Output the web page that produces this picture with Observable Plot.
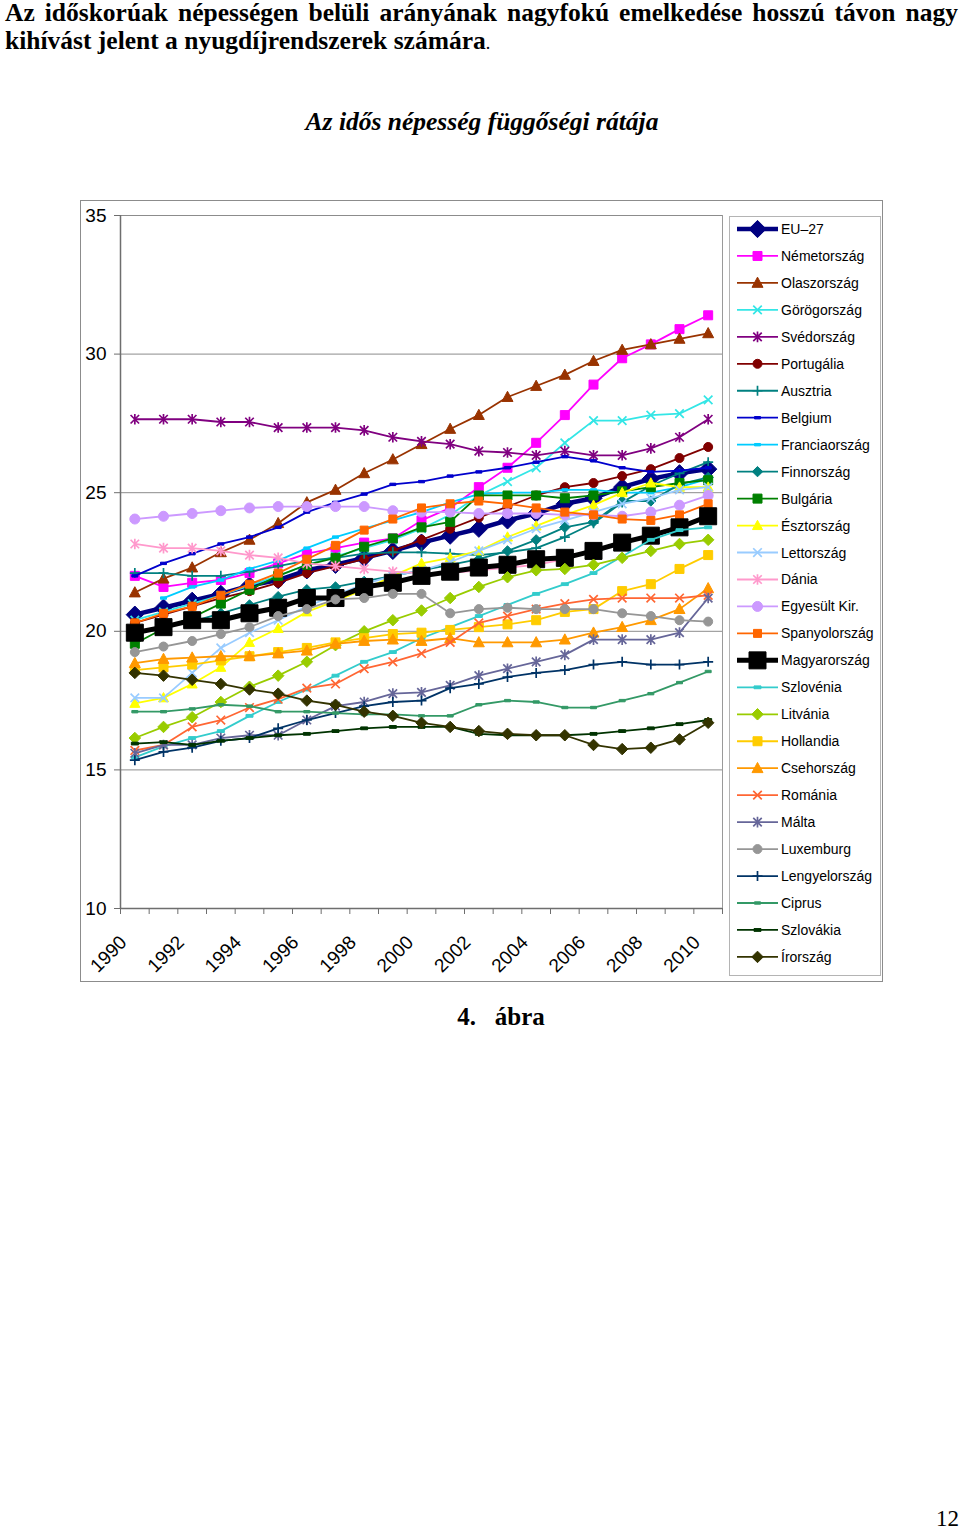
<!DOCTYPE html>
<html><head><meta charset="utf-8">
<script src="https://cdn.jsdelivr.net/npm/d3@7"></script>
<script src="https://cdn.jsdelivr.net/npm/@observablehq/plot@0.6"></script>
<style>
html,body{margin:0;padding:0;background:#fff;}
body{width:960px;height:1531px;position:relative;overflow:hidden;font-family:"Liberation Serif",serif;color:#000;}
.abs{position:absolute;}
#h1{left:5px;top:-1px;width:953px;font-weight:bold;font-size:25.5px;line-height:28px;text-align:justify;text-align-last:justify;white-space:nowrap;}
#h2{left:5px;top:27px;font-weight:bold;font-size:25.5px;line-height:28px;white-space:nowrap;}
#title{left:0;top:107px;width:964px;text-align:center;font-style:italic;font-weight:bold;font-size:25.5px;}
#box{left:80px;top:200px;width:801px;height:780px;border:1px solid #8c8c8c;z-index:2;}
#legbox{left:729px;top:216px;width:150px;height:758px;border:1px solid #b4b4b4;z-index:2;}
#chart{left:0;top:0;z-index:1;}
#legend{left:729px;top:216px;z-index:3;}
#fig{left:0;top:1003px;width:1002px;text-align:center;font-weight:bold;font-size:25px;white-space:pre;}
#page{left:936px;top:1506px;font-size:23px;}
</style></head>
<body>
<div id="h1" class="abs">Az időskorúak népességen belüli arányának nagyfokú emelkedése hosszú távon nagy</div>
<div id="h2" class="abs">kihívást jelent a nyugdíjrendszerek számára<span style="font-weight:normal;font-size:18px">.</span></div>
<div id="title" class="abs">Az idős népesség függőségi rátája</div>
<div id="chart" class="abs"></div>
<div id="box" class="abs"></div>
<div id="legbox" class="abs"></div>
<svg id="legend" class="abs" width="152" height="760"></svg>
<div id="fig" class="abs">4.   ábra</div>
<div id="page" class="abs">12</div>
<script>
// ---- data ----
const years = [1990,1991,1992,1993,1994,1995,1996,1997,1998,1999,2000,2001,2002,2003,2004,2005,2006,2007,2008,2009,2010];
const xLabels = [1990,1992,1994,1996,1998,2000,2002,2004,2006,2008,2010];
const yTicks = [10,15,20,25,30,35];
const countries = ["EU–27","Németország","Olaszország","Görögország","Svédország","Portugália","Ausztria","Belgium","Franciaország","Finnország","Bulgária","Észtország","Lettország","Dánia","Egyesült Kir.","Spanyolország","Magyarország","Szlovénia","Litvánia","Hollandia","Csehország","Románia","Málta","Luxemburg","Lengyelország","Ciprus","Szlovákia","Írország"];

const eu27   = [20.6,20.85,21.1,21.35,21.65,21.85,22.2,22.4,22.65,22.9,23.2,23.45,23.7,24.0,24.25,24.6,24.8,25.2,25.5,25.7,25.85];
const nemet  = [22.0,21.6,21.75,21.85,22.1,22.45,22.8,23.0,23.2,23.35,24.0,24.45,25.2,25.9,26.8,27.8,28.9,29.85,30.35,30.9,31.4];
const olasz  = [21.4,21.9,22.3,22.85,23.3,23.9,24.65,25.1,25.7,26.2,26.75,27.3,27.8,28.45,28.85,29.25,29.75,30.15,30.35,30.55,30.75];
const gorog  = [20.4,20.7,21.0,21.3,21.65,22.0,22.4,22.7,23.0,23.3,23.7,24.2,24.9,25.4,25.9,26.8,27.6,27.6,27.8,27.85,28.35];
const sved   = [27.65,27.65,27.65,27.55,27.55,27.35,27.35,27.35,27.25,27.0,26.85,26.75,26.5,26.45,26.35,26.5,26.35,26.35,26.6,27.0,27.65];
const port   = [20.3,20.6,20.9,21.2,21.45,21.75,22.1,22.35,22.6,22.9,23.3,23.7,24.1,24.5,24.9,25.2,25.35,25.6,25.85,26.25,26.65];
const auszt  = [22.1,22.1,22.0,22.0,22.15,22.35,22.55,22.65,22.8,22.85,22.85,22.8,22.75,22.85,23.0,23.4,23.9,24.65,25.25,25.7,26.1];
const belg   = [22.0,22.45,22.8,23.15,23.4,23.75,24.3,24.65,24.95,25.3,25.4,25.6,25.75,25.9,26.1,26.3,26.15,25.9,25.75,25.8,25.9];
const franc  = [null,21.2,21.6,21.85,22.25,22.55,23.0,23.4,23.7,24.0,24.3,24.65,24.95,25.0,25.0,25.1,25.1,25.0,25.0,25.2,25.5];
const finn   = [19.9,20.15,20.35,20.65,20.95,21.25,21.5,21.6,21.8,22.0,22.2,22.4,22.6,22.9,23.3,23.75,23.95,24.7,24.7,25.3,25.55];
const bulg   = [19.55,20.1,20.5,21.0,21.5,22.0,22.4,22.65,23.05,23.35,23.75,23.95,24.9,24.9,24.9,24.8,24.9,25.05,25.2,25.35,25.45];
const eszt   = [17.4,17.6,18.1,18.7,19.6,20.1,20.7,21.1,21.5,22.0,22.45,22.65,22.9,23.4,23.8,24.2,24.55,25.0,25.35,25.2,25.2];
const lett   = [17.6,17.6,18.5,19.4,19.95,20.4,20.9,21.3,21.7,22.0,22.2,22.5,22.9,23.3,23.7,24.0,24.3,24.6,24.8,25.1,25.2];
const dania  = [23.15,23.0,23.0,22.9,22.75,22.65,22.45,22.35,22.25,22.15,22.1,22.1,22.2,22.3,22.4,22.6,22.9,23.2,23.5,23.8,24.1];
const egyk   = [24.05,24.15,24.25,24.35,24.45,24.5,24.5,24.5,24.5,24.35,24.3,24.3,24.25,24.25,24.25,24.2,24.2,24.15,24.3,24.55,24.9];
const span   = [20.3,20.65,20.9,21.3,21.7,22.1,22.6,23.1,23.65,24.05,24.45,24.6,24.7,24.6,24.45,24.3,24.2,24.05,24.0,24.2,24.6];
const magyar = [19.95,20.15,20.4,20.4,20.65,20.85,21.2,21.2,21.6,21.75,22.0,22.15,22.3,22.4,22.6,22.65,22.9,23.2,23.45,23.75,24.15];
const szloven= [15.45,15.85,16.15,16.4,16.95,17.45,17.9,18.4,18.9,19.25,19.75,20.15,20.55,20.95,21.35,21.7,22.1,22.7,23.3,23.65,23.75];
const litv   = [16.15,16.55,16.9,17.45,18.0,18.4,18.9,19.5,20.0,20.4,20.75,21.2,21.6,21.95,22.2,22.25,22.4,22.65,22.9,23.15,23.3];
const holl   = [18.6,18.7,18.8,18.95,19.1,19.25,19.4,19.6,19.75,19.9,19.95,20.05,20.15,20.25,20.4,20.7,20.8,21.45,21.7,22.25,22.75];
const cseh   = [18.85,19.0,19.05,19.1,19.1,19.2,19.3,19.55,19.65,19.7,19.65,19.75,19.6,19.6,19.6,19.7,19.95,20.15,20.4,20.8,21.55];
const roman  = [15.7,15.9,16.55,16.8,17.25,17.55,17.95,18.1,18.65,18.9,19.2,19.6,20.3,20.55,20.8,21.0,21.15,21.2,21.2,21.2,21.3];
const malta  = [15.6,15.9,15.9,16.15,16.25,16.25,16.8,17.3,17.45,17.75,17.8,18.05,18.4,18.65,18.9,19.15,19.7,19.7,19.7,19.95,21.2];
const lux    = [19.25,19.45,19.65,19.9,20.15,20.55,20.8,21.15,21.2,21.35,21.35,20.65,20.8,20.85,20.8,20.8,20.8,20.65,20.55,20.4,20.35];
const lengy  = [15.35,15.65,15.8,16.05,16.15,16.5,16.8,17.05,17.3,17.45,17.5,17.95,18.1,18.35,18.5,18.6,18.8,18.9,18.8,18.8,18.9];
const ciprus = [17.1,17.1,17.2,17.35,17.3,17.1,17.1,17.05,17.0,17.0,16.95,16.95,17.35,17.5,17.45,17.25,17.25,17.5,17.75,18.15,18.55];
const szlovak= [15.95,16.0,15.9,16.05,16.15,16.25,16.3,16.4,16.5,16.55,16.55,16.55,16.3,16.25,16.25,16.25,16.3,16.4,16.5,16.65,16.8];
const irorsz = [18.5,18.4,18.25,18.1,17.9,17.75,17.5,17.35,17.1,16.95,16.7,16.55,16.4,16.3,16.25,16.25,15.9,15.75,15.8,16.1,16.7];

const seriesValues = [eu27,nemet,olasz,gorog,sved,port,auszt,belg,franc,finn,bulg,eszt,lett,dania,egyk,span,magyar,szloven,litv,holl,cseh,roman,malta,lux,lengy,ciprus,szlovak,irorsz];

// ---- styles ----
const colors = ["#000080","#FF00FF","#993300","#33E6E6","#800080","#800000","#008080","#0000CC","#00CCFF","#008080","#008000","#FFFF00","#99CCFF","#FF99CC","#CC99FF","#FF6600","#000000","#33CCCC","#99CC00","#FFCC00","#FF9900","#FF6633","#666699","#969696","#003366","#339966","#003300","#333300"];
const symbolNames = ["diamond","square","triangle","times","asterisk","circle","plus","dash","dash","diamond","square","triangle","times","asterisk","circle","square","square","dash","diamond","square","triangle","times","asterisk","circle","plus","dash","dash","diamond"];
const markerR = [7.5,4.5,5.5,4.5,5,4.5,5,3,3,4.5,4.5,5,4.5,5,5,4,8.5,3.5,5,4.5,5.5,4.5,5,4.5,5,3,3.5,5];
const lineW = [4.5,1.8,1.8,1.8,1.8,1.8,1.8,1.8,1.8,1.8,1.8,1.8,1.8,1.8,1.8,1.8,5,1.8,1.8,1.8,1.8,1.8,1.8,1.8,1.8,1.8,1.8,1.8];

const R = s => Math.sqrt(s / Math.PI);
const symbols = {
  square:  {draw(c,s){const r=R(s); c.rect(-r,-r,2*r,2*r);}},
  diamond: {draw(c,s){const r=R(s)*1.15; c.moveTo(0,-r); c.lineTo(r,0); c.lineTo(0,r); c.lineTo(-r,0); c.closePath();}},
  triangle:{draw(c,s){const r=R(s); c.moveTo(0,-1.05*r); c.lineTo(r,0.8*r); c.lineTo(-r,0.8*r); c.closePath();}},
  circle:  {draw(c,s){const r=R(s); c.moveTo(r,0); c.arc(0,0,r,0,2*Math.PI);}},
  times:   {draw(c,s){const r=R(s)*0.95; c.moveTo(-r,-r); c.lineTo(r,r); c.moveTo(-r,r); c.lineTo(r,-r);}},
  asterisk:{draw(c,s){const r=R(s)*0.85; c.moveTo(-r,-r); c.lineTo(r,r); c.moveTo(-r,r); c.lineTo(r,-r); c.moveTo(0,-r*1.25); c.lineTo(0,r*1.25);}},
  plus:    {draw(c,s){const r=R(s); c.moveTo(0,-r); c.lineTo(0,r); c.moveTo(-r,0); c.lineTo(r,0);}},
  dash:    {draw(c,s){const r=R(s); c.rect(-r,-r*0.4,2*r,r*0.8);}}
};
const strokeOnly = new Set(["times","asterisk","plus"]);

// ---- chart ----
const boundaries = years.map(y => y - 0.5).concat([years[years.length-1] + 0.5]);
const marks = [
  Plot.gridY(yTicks.filter(t => t > 10), {stroke:"#8c8c8c", strokeOpacity:1, strokeWidth:1}),
  Plot.ruleX([boundaries[boundaries.length-1]], {stroke:"#9a9a9a", strokeWidth:1}),
  Plot.ruleX([boundaries[0]], {stroke:"#6e6e6e", strokeWidth:1.5}),
  Plot.ruleY([yTicks[0]], {stroke:"#6e6e6e", strokeWidth:1.5}),
  Plot.axisY(yTicks, {tickSize:6, tickPadding:8, fontSize:19, label:null, stroke:"#6e6e6e", fill:"#000"}),
  Plot.axisX(boundaries, {tickSize:6, tickFormat:() => "", label:null, stroke:"#6e6e6e"}),
  Plot.text(xLabels, {x:d => d, frameAnchor:"bottom", text:d => String(d), rotate:-45, textAnchor:"end", dx:-7, dy:35, fontSize:19, fill:"#000"})
];
countries.forEach((name, i) => {
  const data = years.map((yr, j) => ({year:yr, value:seriesValues[i][j], name})).filter(d => d.value != null);
  const sn = symbolNames[i];
  marks.push(Plot.line(data, {x:"year", y:"value", stroke:colors[i], strokeWidth:lineW[i], strokeLinejoin:"round"}));
  marks.push(Plot.dot(data, {x:"year", y:"value", symbol:symbols[sn], r:markerR[i],
    fill: strokeOnly.has(sn) ? "none" : colors[i], stroke: colors[i], strokeWidth: strokeOnly.has(sn) ? 1.7 : 1}));
});

const chart = Plot.plot({
  width:960, height:1000,
  marginLeft:120, marginRight:238, marginTop:215, marginBottom:92,
  x:{type:"linear", domain:[boundaries[0], boundaries[boundaries.length-1]]},
  y:{domain:[yTicks[0], yTicks[yTicks.length-1]]},
  style:{fontFamily:"Liberation Sans, Arial, sans-serif", background:"transparent", overflow:"visible"},
  marks
});
document.getElementById("chart").appendChild(chart);

// ---- legend ----
const leg = d3.select("#legend");
const step = 26.96;
countries.forEach((name, i) => {
  const g = leg.append("g").attr("transform", `translate(0,${13 + i*step})`);
  g.append("line").attr("x1",8).attr("x2",49).attr("y1",0).attr("y2",0).attr("stroke",colors[i]).attr("stroke-width",lineW[i]);
  const sn = symbolNames[i];
  g.append("path").attr("transform","translate(28.5,0)")
    .attr("d", d3.symbol(symbols[sn], Math.PI*markerR[i]*markerR[i])())
    .attr("fill", strokeOnly.has(sn) ? "none" : colors[i]).attr("stroke", colors[i]).attr("stroke-width", strokeOnly.has(sn) ? 1.7 : 1);
  g.append("text").attr("x",52).attr("y",5).attr("font-family","Liberation Sans, Arial, sans-serif").attr("font-size",14).text(name);
});
</script>
</body></html>
